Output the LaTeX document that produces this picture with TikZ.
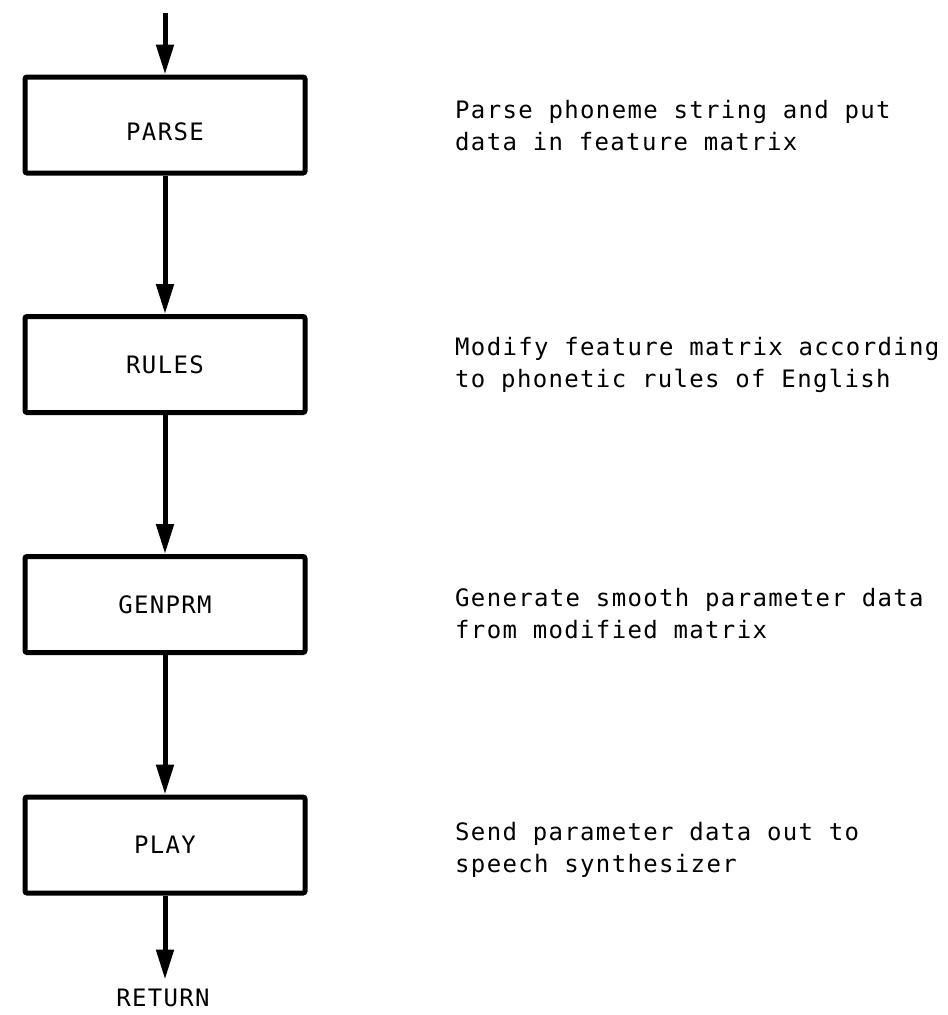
\documentclass[tikz,border=0pt]{standalone}
\usepackage{fontspec}
\setmainfont{DejaVu Sans}
\newfontfamily\printfont[LetterSpace=5.6]{DejaVu Sans Mono}
\usetikzlibrary{arrows.meta}
\begin{document}
\begin{tikzpicture}[x=1pt,y=-1pt,
  every node/.style={font=\printfont\fontsize{24}{32}\selectfont},
  stagebox/.style={draw,line width=5pt,minimum width=280pt,minimum height=96pt,inner sep=0pt,rounded corners=2pt},
  flow/.style={line width=5pt,-{Triangle[length=30pt,width=17pt]}},
  note/.style={align=left,anchor=base west,inner sep=0pt}]
  \useasboundingbox (0,0) rectangle (948,1015);

  % program stages
  \node[stagebox,text height=30pt,text depth=0pt] (parse) at (165,125) {PARSE};
  \node[stagebox] (rules)  at (165,364.5) {RULES};
  \node[stagebox] (genprm) at (165,604.5) {GENPRM};
  \node[stagebox] (play)   at (165,845) {PLAY};
  \node[inner sep=0pt] (ret) at (163,998) {RETURN};
  \coordinate (entry) at (165,13);

  % control flow
  \draw[flow] (entry) -- (parse.north);
  \draw[flow] (parse) -- (rules);
  \draw[flow] (rules) -- (genprm);
  \draw[flow] (genprm) -- (play);
  \draw[flow] (play.south) -- ++(0,84) coordinate (retend);

  % descriptions (anchored on the baseline of the second line)
  \node[note] (d1) at (455,150) {Parse phoneme string and put\\data in feature matrix};
  \node[note] (d2) at (455,387) {Modify feature matrix according\\to phonetic rules of English};
  \node[note] (d3) at (455,638) {Generate smooth parameter data\\from modified matrix};
  \node[note] (d4) at (455,872) {Send parameter data out to\\speech synthesizer};
\end{tikzpicture}
\end{document}
